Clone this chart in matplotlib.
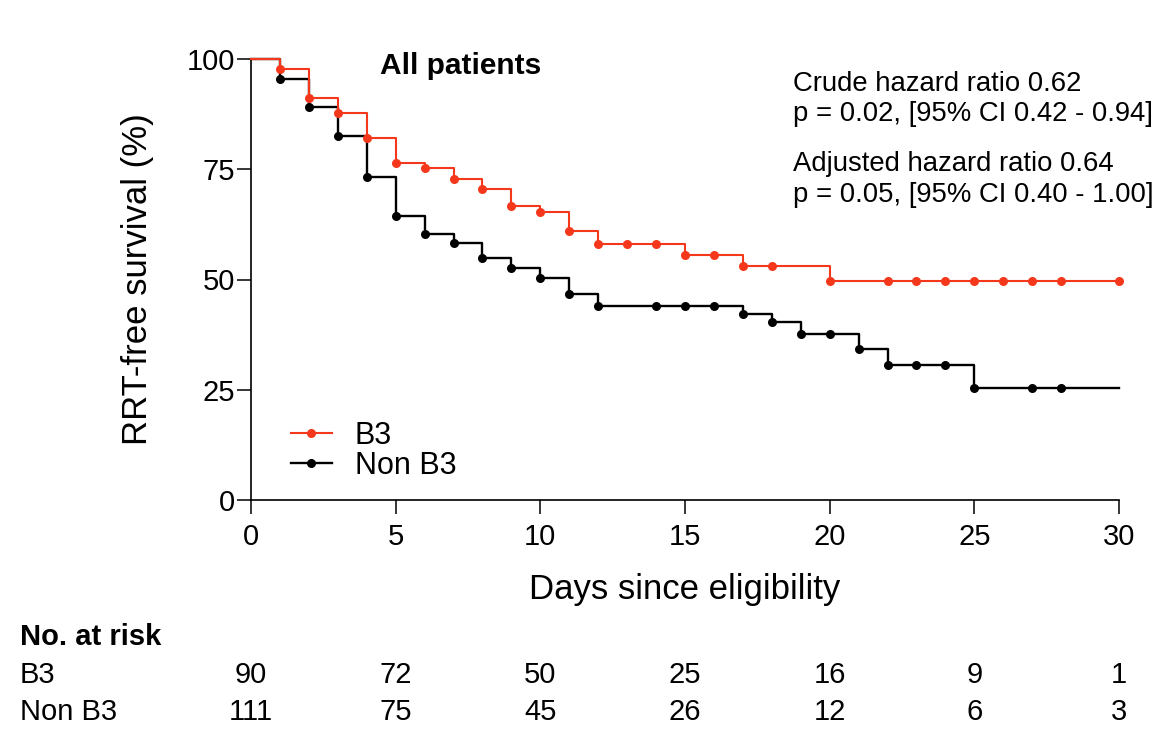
import matplotlib
matplotlib.use('Agg')
import matplotlib.pyplot as plt
from matplotlib.lines import Line2D
import matplotlib.transforms as mtransforms

plt.rcParams['font.family'] = ['Liberation Sans', 'DejaVu Sans']

W, H = 1171, 746

# ---- data ----
b3_days = [0, 1, 2, 3, 4, 5, 6, 7, 8, 9, 10, 11, 12, 13, 14, 15, 16, 17, 18,
           20, 22, 23, 24, 25, 26, 27, 28, 30]
b3_surv = [100, 97.8, 91.2, 87.8, 82.1, 76.4, 75.3, 72.9, 70.5, 66.6, 65.2,
           60.9, 58.0, 58.0, 58.0, 55.6, 55.6, 53.1, 53.1,
           49.7, 49.7, 49.7, 49.7, 49.7, 49.7, 49.7, 49.7, 49.7]
b3_end = 30

nonb3_days = [0, 1, 2, 3, 4, 5, 6, 7, 8, 9, 10, 11, 12, 14, 15, 16, 17, 18,
              19, 20, 21, 22, 23, 24, 25, 27, 28]
nonb3_surv = [100, 95.5, 89.2, 82.6, 73.2, 64.4, 60.3, 58.2, 54.9, 52.6, 50.3,
              46.6, 44.1, 44.1, 44.1, 44.1, 42.2, 40.4,
              37.6, 37.6, 34.2, 30.5, 30.5, 30.5, 25.4, 25.4, 25.4]
nonb3_end = 30

risk_times = [0, 5, 10, 15, 20, 25, 30]
b3_risk = [90, 72, 50, 25, 16, 9, 1]
nonb3_risk = [111, 75, 45, 26, 12, 6, 3]

xticks = [0, 5, 10, 15, 20, 25, 30]
yticks = [0, 25, 50, 75, 100]

RED = '#F5381C'
BLACK = '#000000'


def fx(px):
    return px / W


def fy(py):
    return 1 - py / H


fig = plt.figure(figsize=(W / 100, H / 100), dpi=100)
ax = fig.add_axes([fx(251), fy(500), fx(1119) - fx(251), fy(59) - fy(500)])


def km(ax, days, surv, end, color, lw):
    xs = list(days)
    ys = list(surv)
    if end > xs[-1]:
        xs.append(end)
        ys.append(ys[-1])
    ax.step(xs, ys, where='post', color=color, lw=lw, clip_on=False, zorder=3)
    ax.plot(days[1:], surv[1:], 'o', color=color, ms=6.5, mec='none',
            clip_on=False, zorder=4)


km(ax, nonb3_days, nonb3_surv, nonb3_end, BLACK, 1.7)
km(ax, b3_days, b3_surv, b3_end, RED, 1.5)

ax.set_xlim(0, 30)
ax.set_ylim(0, 100)
ax.set_xticks(xticks)
ax.set_yticks(yticks)
for s in ['top', 'right']:
    ax.spines[s].set_visible(False)
for s in ['left', 'bottom']:
    ax.spines[s].set_linewidth(1.2)
ax.tick_params(axis='both', direction='out', length=10, width=1.1,
               labelsize=21)
ax.tick_params(axis='x', pad=6.5)
ax.tick_params(axis='y', pad=1.5)

# axis labels
fig.text(fx(685), fy(599), 'Days since eligibility', fontsize=25,
         ha='center', va='baseline')
fig.text(fx(138), fy(279.5), 'RRT-free survival (%)', fontsize=25,
         ha='center', va='center', rotation=90)

# title
fig.text(fx(380), fy(74.3), 'All patients', fontsize=21.5, fontweight='bold',
         ha='left', va='baseline')

# hazard ratio annotations
hr_lines = ['Crude hazard ratio 0.62',
            'p = 0.02, [95% CI 0.42 - 0.94]',
            'Adjusted hazard ratio 0.64',
            'p = 0.05, [95% CI 0.40 - 1.00]']
hr_baselines = [91, 121, 171, 202]
for t, b in zip(hr_lines, hr_baselines):
    fig.text(fx(793), fy(b), t, fontsize=19.8, ha='left', va='baseline')

# legend
handles = [Line2D([], [], color=RED, lw=1.5, marker='o', ms=6.5, mec='none'),
           Line2D([], [], color=BLACK, lw=1.7, marker='o', ms=6.5, mec='none')]
leg = fig.legend(handles, ['B3', 'Non B3'], loc='center left',
                 bbox_to_anchor=(fx(290.7), fy(451)), frameon=False,
                 fontsize=22, handlelength=1.35, handletextpad=0.75,
                 labelspacing=0.0, borderpad=0, borderaxespad=0)

# number at risk table
trans = mtransforms.blended_transform_factory(ax.transData, fig.transFigure)
fig.text(fx(20), fy(645), 'No. at risk', fontsize=21, fontweight='bold',
         ha='left', va='baseline')
fig.text(fx(20), fy(683), 'B3', fontsize=21, ha='left', va='baseline')
fig.text(fx(20), fy(720), 'Non B3', fontsize=21, ha='left', va='baseline')
for t, n in zip(risk_times, b3_risk):
    ax.text(t, fy(683), str(n), transform=trans, fontsize=21,
            ha='center', va='baseline')
for t, n in zip(risk_times, nonb3_risk):
    ax.text(t, fy(720), str(n), transform=trans, fontsize=21,
            ha='center', va='baseline')

fig.savefig('out.png', dpi=100)
